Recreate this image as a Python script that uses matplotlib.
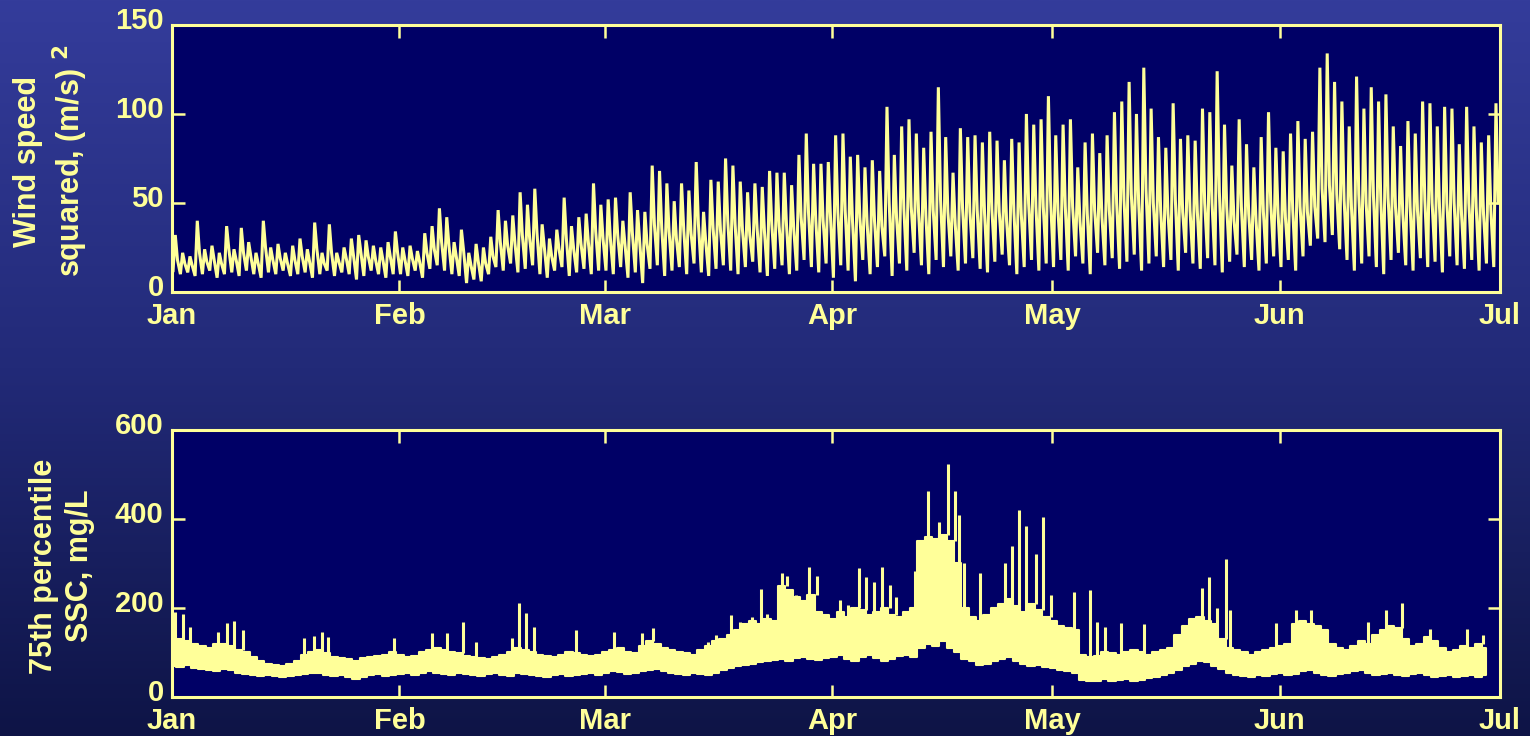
import numpy as np
import matplotlib
matplotlib.use("Agg")
import matplotlib.pyplot as plt
from matplotlib.colors import LinearSegmentedColormap
from matplotlib.transforms import ScaledTranslation

plt.rcParams['font.family'] = ['Liberation Sans', 'DejaVu Sans']
plt.rcParams['font.weight'] = 'bold'

YELLOW = "#ffff99"
NAVY = "#000066"

month_days = [0, 31, 59, 90, 120, 151, 181]
month_labels = ["Jan", "Feb", "Mar", "Apr", "May", "Jun", "Jul"]

# wind speed squared, daily peak, daily trough and secondary bump (m/s)^2, Jan 1 .. Jun 30
wind_high = [
    # Jan
    32, 22, 20, 40, 24, 26, 22, 37, 24, 36, 28, 22, 40, 25, 27, 22, 26, 30, 24, 39,
    22, 38, 22, 25, 30, 32, 29, 26, 25, 28, 34,
    # Feb
    25, 26, 23, 33, 37, 47, 42, 28, 35, 22, 27, 25, 31, 46, 40, 43, 56, 49, 58, 38,
    30, 35, 53, 37, 42, 44, 61, 49,
    # Mar
    52, 53, 40, 56, 46, 45, 71, 68, 61, 51, 61, 57, 73, 45, 63, 62, 75, 71, 62, 56,
    61, 59, 68, 67, 67, 60, 77, 89, 72, 72, 73,
    # Apr
    88, 89, 76, 77, 70, 74, 68, 104, 77, 93, 97, 89, 81, 90, 115, 87, 67, 92, 87, 88,
    84, 90, 85, 74, 86, 84, 100, 94, 97, 110,
    # May
    88, 94, 97, 70, 84, 89, 78, 88, 101, 107, 118, 100, 126, 103, 87, 81, 106, 86, 88, 85,
    103, 101, 124, 94, 71, 97, 83, 70, 87, 101, 81,
    # Jun
    79, 89, 96, 86, 90, 126, 134, 118, 107, 93, 121, 103, 115, 107, 111, 93, 82, 96, 89, 107,
    106, 93, 104, 103, 83, 104, 93, 84, 88, 106,
]
wind_low = [
    12, 10, 11, 9, 10, 12, 8, 10, 11, 9, 12, 10, 8, 11, 10, 12, 9, 10, 11, 8,
    10, 12, 9, 11, 10, 7, 9, 12, 10, 8, 10,
    10, 9, 12, 8, 13, 15, 12, 10, 9, 5, 7, 6, 10, 14, 12, 16, 11, 13, 15, 10,
    8, 12, 14, 9, 11, 13, 10, 12,
    12, 10, 14, 8, 11, 5, 13, 15, 9, 12, 14, 10, 16, 11, 9, 13, 15, 12, 10, 14,
    17, 11, 9, 13, 15, 10, 12, 18, 14, 11, 16,
    8, 15, 12, 6, 18, 10, 14, 20, 9, 16, 12, 22, 15, 10, 18, 14, 20, 12, 16, 19,
    13, 11, 17, 21, 15, 10, 14, 18, 12, 16,
    14, 18, 12, 20, 16, 10, 22, 15, 19, 13, 17, 21, 12, 16, 20, 14, 18, 12, 22, 16,
    13, 19, 15, 11, 17, 21, 14, 18, 12, 16, 20,
    14, 18, 12, 20, 26, 30, 28, 32, 24, 18, 12, 16, 20, 14, 10, 18, 22, 15, 12, 19,
    14, 17, 11, 20, 15, 13, 18, 12, 16, 14,
]
wind_mid = [
    18, 16, 15, 22, 17, 18, 16, 24, 18, 22, 20, 16, 25, 18, 19, 16, 18, 20, 17, 24,
    16, 22, 17, 19, 20, 22, 20, 18, 18, 20, 22,
    18, 19, 17, 22, 24, 28, 26, 20, 23, 15, 17, 16, 20, 28, 26, 27, 32, 30, 33, 25,
    20, 24, 30, 24, 27, 28, 34, 30,
    30, 32, 26, 33, 28, 27, 38, 36, 34, 30, 35, 33, 38, 28, 36, 35, 40, 38, 35, 32,
    36, 34, 38, 37, 38, 35, 42, 45, 40, 40, 42,
    45, 46, 40, 42, 38, 40, 37, 50, 42, 47, 48, 45, 43, 46, 52, 45, 38, 47, 45, 46,
    44, 46, 45, 40, 45, 44, 50, 48, 48, 52,
    46, 48, 48, 40, 44, 46, 42, 46, 50, 52, 55, 50, 58, 50, 46, 44, 52, 45, 46, 45,
    50, 50, 56, 48, 40, 48, 44, 40, 45, 50, 44,
    42, 46, 48, 45, 48, 58, 60, 55, 52, 48, 55, 50, 54, 52, 53, 48, 44, 48, 46, 52,
    50, 48, 50, 50, 44, 50, 48, 44, 46, 50,
]

# 75th percentile SSC (mg/L): daily lower edge and daily band top, Jan 1 .. Jun 29
ssc_low = [
    70, 68, 72, 65, 62, 60, 58, 62, 60, 55, 52, 50, 48, 50, 47, 45, 48, 50, 52, 55,
    53, 50, 48, 50, 45, 40, 45, 50, 52, 48, 50,
    52, 55, 50, 55, 58, 55, 52, 50, 55, 52, 50, 48, 52, 55, 50, 48, 55, 52, 50, 48,
    45, 50, 52, 48, 50, 52, 55, 50,
    55, 58, 56, 52, 55, 58, 60, 62, 58, 55, 52, 50, 55, 52, 50, 55, 60, 65, 70, 72,
    75, 78, 80, 82, 85, 80, 88, 90, 85, 82, 88,
    90, 95, 85, 80, 90, 95, 88, 80, 85, 92, 95, 90, 110, 120, 115, 125, 110, 100, 85, 80,
    72, 75, 80, 85, 90, 80, 75, 70, 72, 68,
    65, 60, 58, 55, 38, 35, 36, 40, 35, 38, 40, 36, 38, 42, 45, 50, 55, 60, 70, 75,
    80, 78, 70, 62, 55, 50, 48, 45, 50, 48, 52,
    55, 50, 52, 58, 60, 55, 50, 48, 52, 55, 58, 60, 55, 50, 52, 55, 50, 48, 52, 55,
    50, 45, 48, 50, 45, 48, 50, 45, 50,
]
ssc_band = [
    140, 130, 125, 120, 115, 110, 118, 120, 115, 105, 100, 90, 80, 75, 72, 70, 75, 80, 95, 100,
    105, 98, 90, 88, 85, 80, 88, 90, 92, 95, 100,
    95, 90, 92, 100, 105, 110, 105, 100, 98, 92, 90, 88, 85, 90, 95, 100, 110, 105, 100, 95,
    92, 90, 95, 100, 98, 95, 92, 95,
    100, 105, 110, 102, 98, 115, 125, 120, 110, 105, 100, 98, 95, 105, 115, 125, 130, 140, 150, 165,
    170, 165, 175, 170, 250, 240, 225, 215, 230, 190, 185,
    175, 190, 180, 200, 195, 185, 190, 200, 185, 180, 190, 200, 350, 360, 355, 365, 350, 300, 200, 180,
    170, 185, 200, 210, 220, 205, 190, 210, 195, 180,
    170, 160, 155, 150, 95, 90, 92, 100, 98, 95, 100, 105, 100, 95, 100, 105, 110, 140, 160, 175,
    180, 170, 165, 130, 110, 105, 100, 95, 100, 105, 110,
    115, 120, 165, 170, 165, 160, 150, 120, 110, 105, 115, 125, 120, 140, 150, 160, 155, 130, 115, 120,
    135, 125, 110, 100, 105, 115, 110, 120, 110,
]
# short SSC events rising above the band: day of year and peak value
spike_day = [0.4, 1.5, 2.5, 6.3, 7.5, 8.4, 9.7, 18.0, 19.3, 20.4, 21.3, 30.2, 35.4, 37.5, 39.7,
             41.5, 46.3, 47.3, 48.3, 49.3, 55.1, 60.3, 64.1, 65.6, 73.1, 74.2, 76.2, 77.4, 79.0,
             80.3, 81.1, 83.1, 83.8, 85.0, 86.8, 87.9, 91.0, 92.1, 93.7, 94.6, 95.7, 96.8, 97.8,
             98.7, 101.2, 103.0, 104.6, 105.7, 106.7, 107.2, 108.0, 110.1, 113.5, 114.5, 115.5,
             116.4, 117.7, 118.7, 119.8, 123.0, 125.1, 126.1, 127.1, 129.3, 132.5, 140.4, 141.4,
             142.4, 143.6, 144.2, 150.5, 153.2, 155.2, 163.0, 165.5, 167.6, 171.4, 176.5, 178.7]
spike_val = [191, 187, 157, 146, 166, 171, 150, 133, 137, 146, 135, 133, 144, 144, 169,
             124, 133, 211, 189, 157, 150, 146, 144, 155, 124, 139, 184, 169, 180,
             243, 187, 279, 272, 229, 292, 272, 218, 207, 290, 270, 258, 292, 252,
             225, 283, 463, 393, 524, 463, 409, 300, 278, 300, 339, 420,
             384, 321, 404, 229, 236, 241, 169, 157, 166, 164, 245, 270,
             200, 310, 196, 166, 196, 196, 169, 196, 211, 153, 153, 139]


def style_axis(ax, ymax, ystep):
    ax.set_facecolor(NAVY)
    ax.set_xlim(0, 181)
    ax.set_ylim(0, ymax)
    ax.set_xticks(month_days)
    ax.set_xticklabels(month_labels)
    ax.set_yticks(np.arange(0, ymax + 1, ystep))
    for s in ax.spines.values():
        s.set_color(YELLOW)
        s.set_linewidth(2.2)
    ax.tick_params(direction="in", length=9, width=1.8, colors=YELLOW,
                   top=True, right=True, labelsize=21)
    ax.tick_params(axis="x", pad=7)
    ax.tick_params(axis="y", pad=6)
    for lab in ax.get_xticklabels() + ax.get_yticklabels():
        lab.set_fontweight("bold")
        lab.set_color(YELLOW)
    # MATLAB style: y labels sit a little above their ticks
    lift = ScaledTranslation(0, 5 / 72, ax.figure.dpi_scale_trans)
    for t in ax.yaxis.get_major_ticks():
        t.label1.set_verticalalignment("center_baseline")
        t.label1.set_transform(t.label1.get_transform() + lift)


fig = plt.figure(figsize=(15.3, 7.36), dpi=100)

# gradient background
bg = fig.add_axes([0, 0, 1, 1], zorder=-10)
cmap = LinearSegmentedColormap.from_list("bg", ["#0e1446", "#222a78", "#343c9b"])
bg.imshow(np.linspace(0, 1, 256).reshape(-1, 1), aspect="auto", cmap=cmap,
          origin="lower", extent=[0, 1, 0, 1])
bg.axis("off")

# wind panel
ax1 = fig.add_axes([0.1124, 0.6033, 0.868, 0.3628])
days = np.arange(181)
wind_x = np.column_stack([days + 0.15, days + 0.45, days + 0.75]).ravel()
wind_y = np.column_stack([wind_low, wind_high, wind_mid]).ravel()
ax1.plot(wind_x, wind_y, color=YELLOW, lw=2.2, solid_joinstyle="miter")
style_axis(ax1, 150, 50)
ax1.set_ylabel("Wind speed\nsquared, (m/s) $^{\\mathbf{2}}$", color=YELLOW,
               fontsize=22, fontweight="bold", linespacing=1.25)
ax1.yaxis.set_label_coords(-0.062, 0.49)

# SSC panel
ax2 = fig.add_axes([0.1124, 0.053, 0.868, 0.3628])
ssc_x = np.arange(len(ssc_low)) + 0.1
ax2.fill_between(ssc_x, ssc_low, ssc_band, step="mid", color=YELLOW, lw=1.5)
spike_base = [ssc_band[int(d)] for d in spike_day]
ax2.vlines(spike_day, spike_base, spike_val, color=YELLOW, lw=2.2)
style_axis(ax2, 600, 200)
ax2.set_ylabel("75th percentile\nSSC, mg/L", color=YELLOW,
               fontsize=22, fontweight="bold", linespacing=1.25)
ax2.yaxis.set_label_coords(-0.058, 0.49)

fig.savefig("out.png", dpi=100)
